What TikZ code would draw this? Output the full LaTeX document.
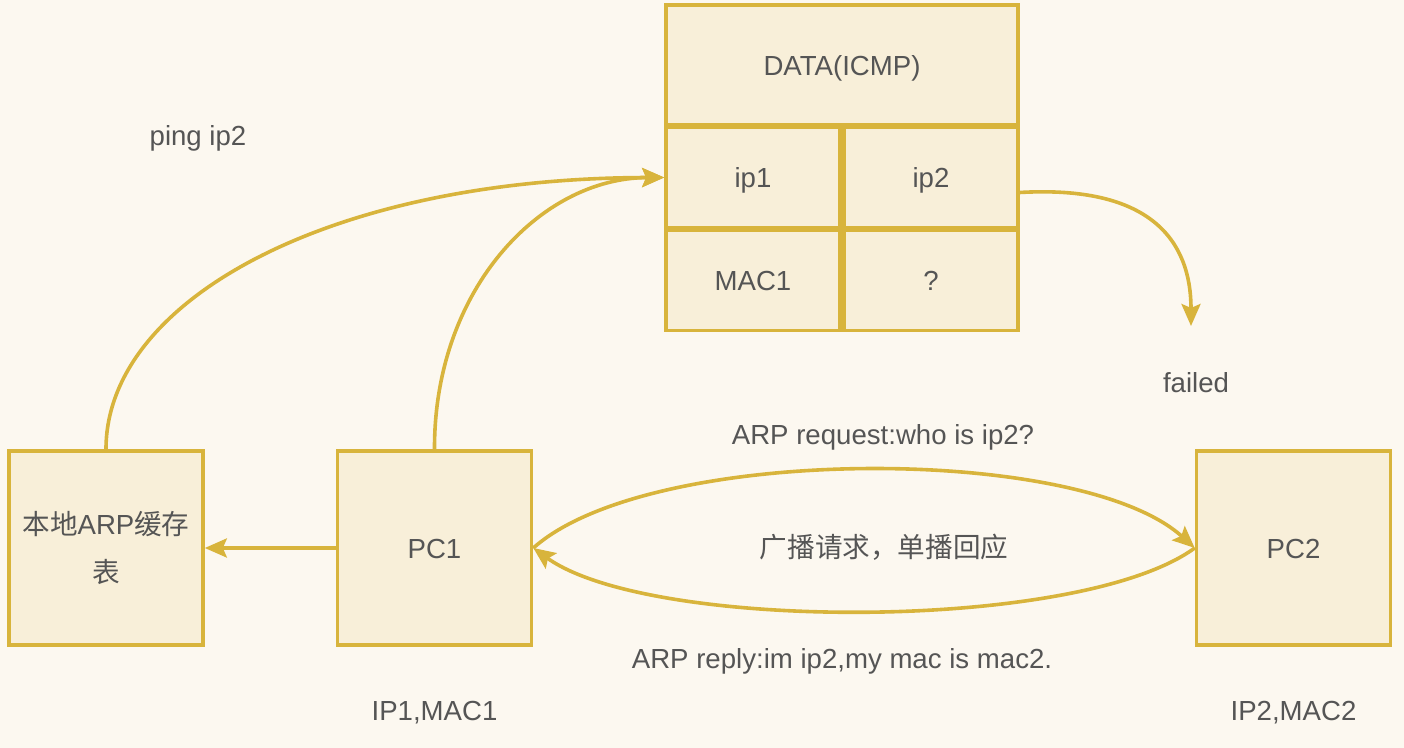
\documentclass[tikz,border=0pt]{standalone}
\usepackage{fontspec}
\setmainfont{Liberation Sans}
\newfontfamily\cjk{Noto Sans CJK SC}
\usetikzlibrary{positioning,arrows.meta}

\definecolor{paper}{HTML}{FCF8F0}
\definecolor{boxfill}{HTML}{F8EFD9}
\definecolor{boxline}{HTML}{D8B43C}
\definecolor{ink}{HTML}{555555}

\begin{document}
\begin{tikzpicture}[x=0.5pt, y=-0.5pt,
	box/.style={rectangle, draw=boxline, fill=boxfill, line width=1.8pt, text=ink, font=\fontsize{13.8}{24}\selectfont, align=center, inner sep=0pt, text height=13.1pt, text depth=2.9pt},
	cell/.style={box, minimum width=87pt, minimum height=50pt},
	host/.style={box, minimum width=97pt, minimum height=97pt},
	lbl/.style={text=ink, font=\fontsize{13.8}{24}\selectfont, inner sep=0pt, text height=13.1pt, text depth=2.9pt},
	link/.style={draw=boxline, line width=1.8pt, -{Stealth[length=11pt,width=9.5pt,inset=2pt]}}
	]
	\fill [paper] (0,0) rectangle (1404,748);
	\useasboundingbox (0,0) rectangle (1404,748);

	% packet
	\node (data) [box, minimum width=176pt, minimum height=60pt] at (842,65) {DATA(ICMP)};
		\node (ipone) [cell] at (753,177.5) {ip1};
		\node (iptwo) [cell] at (931,177.5) {ip2};
		\node (macone) [cell] at (753,280.5) {MAC1};
		\node (unknown) [cell] at (931,280.5) {?};

	% hosts
	\node (cache) [host, text height=, text depth=] at (106,548) {{\cjk 本地}ARP{\cjk 缓存}\\{\cjk 表}};
	\node (pcone) [host] at (434.5,548) {PC1};
	\node (pctwo) [host] at (1293.5,548) {PC2};

	% labels
	\node (ping) [lbl] at (198,135) {ping ip2};
	\node (failed) [lbl] at (1196,382) {failed};
	\node (request) [lbl] at (883,434) {ARP request:who is ip2?};
	\node (note) [lbl, font=\cjk\fontsize{13.8}{24}\selectfont] at (884,547) {广播请求，单播回应};
	\node (reply) [lbl] at (842,658) {ARP reply:im ip2,my mac is mac2.};
	\node (addrone) [lbl, below=23.5pt of pcone] {IP1,MAC1};
	\node (addrtwo) [lbl, below=23.5pt of pctwo] {IP2,MAC2};
	\coordinate (drop) at (1191,326);

	\draw [link] (pcone.west) -- (cache.east);
	\draw [link] (cache.north) .. controls (106,300) and (330,178) .. (ipone.west);
	\draw [link] (pcone.north) .. controls (434,290) and (540,178) .. (ipone.west);
	\draw [link] ([yshift=-7.5pt]iptwo.east) .. controls (1150,185) and (1191,240) .. (drop);

	\draw [link] (pcone.east) .. controls (650,444) and (1080,444) .. (pctwo.west);
	\draw [link] (pctwo.west) .. controls (1080,632) and (650,632) .. (pcone.east);

\end{tikzpicture}
\end{document}
